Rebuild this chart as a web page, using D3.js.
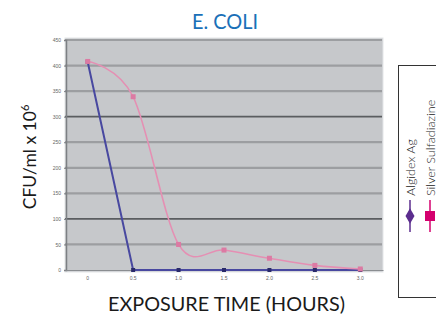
<!DOCTYPE html>
<html><head><meta charset="utf-8">
<script src="https://cdn.jsdelivr.net/npm/d3@7"></script>
<style>body{margin:0;background:#fff;}svg{display:block;}</style>
</head><body>
<script>
const categories = ["0", "0.5", "1.0", "1.5", "2.0", "2.5", "3.0"];
const algidex = [407, 0, 0, 0, 0, 0, 0];
const silver = [408, 339, 50, 39, 23, 9, 2];
const yTicks = [0, 50, 100, 150, 200, 250, 300, 350, 400, 450];
const seriesNames = ["Algidex Ag", "Silver Sulfadiazine"];

const W = 436, H = 318;
const svg = d3.select("body").append("svg").attr("width", W).attr("height", H);
const FONT = "Lato, 'Open Sans', sans-serif";

const plot = {l: 65, r: 383, t: 38, b: 272};
const x = d3.scaleBand().domain(categories).range([plot.l, plot.r]);
const y = d3.scaleLinear().domain([0, 450]).range([270, 40]);
const cx = c => x(c) + x.bandwidth() / 2;

// background
svg.append("rect").attr("x", plot.l).attr("y", plot.t).attr("width", plot.r - plot.l).attr("height", plot.b - plot.t)
  .attr("fill", "#c6c8cb").attr("stroke", "#e4e6e8").attr("stroke-width", 1);

// gridlines
svg.append("g").selectAll("line").data(yTicks.filter(d => d > 0)).join("line")
  .attr("x1", plot.l).attr("x2", plot.r - 1).attr("y1", d => y(d)).attr("y2", d => y(d))
  .attr("stroke", d => (d === 100 || d === 300) ? "#5a5d60" : "#9c9ea1")
  .attr("stroke-width", d => (d === 100 || d === 300) ? 1.6 : 2.2);

// y axis
const yAxis = d3.axisLeft(y).tickValues(yTicks).tickSize(2).tickPadding(3);
const gy = svg.append("g").attr("transform", `translate(${plot.l + 1},0)`).call(yAxis);
gy.select(".domain").attr("stroke", "#7d8084").attr("stroke-width", 1.5);
gy.selectAll(".tick line").attr("stroke", "#7d8084");
gy.selectAll("text").attr("font-size", 5).attr("fill", "#666").attr("font-family", "Arial, sans-serif");

// x axis
const xAxis = d3.axisBottom(x).tickSize(0).tickPadding(6);
const gx = svg.append("g").attr("transform", `translate(0,270)`).call(xAxis);
gx.select(".domain").attr("stroke", "#8a8d91").attr("stroke-width", 1.2);
gx.selectAll("text").attr("font-size", 5).attr("fill", "#666").attr("font-family", "Arial, sans-serif");

// lines
const line = d3.line().x((d, i) => cx(categories[i])).y(d => y(d));
svg.append("path").datum(algidex).attr("d", line).attr("fill", "none")
  .attr("stroke", "#4848a0").attr("stroke-width", 2);
const sline = d3.line().x((d, i) => cx(categories[i])).y(d => y(d)).curve(d3.curveCardinal.tension(0));
svg.append("path").datum(silver).attr("d", sline).attr("fill", "none")
  .attr("stroke", "#e58fb3").attr("stroke-width", 1.6);

// markers
svg.append("g").selectAll("rect").data(algidex).join("rect")
  .attr("x", (d, i) => cx(categories[i]) - 2).attr("y", d => y(d) - 2)
  .attr("width", 4).attr("height", 4).attr("fill", "#2a2a6a");
svg.append("g").selectAll("rect").data(silver).join("rect")
  .attr("x", (d, i) => cx(categories[i]) - 2.5).attr("y", d => y(d) - 2.5)
  .attr("width", 5).attr("height", 5).attr("fill", "#dc7aa3");

// title
svg.append("text").attr("x", 225).attr("y", 29).attr("text-anchor", "middle")
  .attr("font-family", FONT).attr("font-size", 21).attr("fill", "#1a70b8")
  .attr("textLength", 66).attr("lengthAdjust", "spacingAndGlyphs")
  .text("E. COLI");

// y label
const yl = svg.append("text").attr("transform", "translate(36,157) rotate(-90)").attr("text-anchor", "middle")
  .attr("font-family", FONT).attr("font-size", 17.5).attr("fill", "#1a1a1a");
yl.append("tspan").text("CFU/ml x 10");
yl.append("tspan").attr("font-size", 11).attr("dy", -7).text("6");

// x label
svg.append("text").attr("x", 226.5).attr("y", 311).attr("text-anchor", "middle")
  .attr("font-family", FONT).attr("font-size", 19).attr("fill", "#1a1a1a")
  .attr("textLength", 237).attr("lengthAdjust", "spacingAndGlyphs")
  .text("EXPOSURE TIME (HOURS)");

// legend
const lg = svg.append("g");
lg.append("rect").attr("x", 398.5).attr("y", 65.5).attr("width", 60).attr("height", 232)
  .attr("fill", "#fff").attr("stroke", "#333").attr("stroke-width", 1);
const legColors = ["#5b2d8e", "#d4006e"];
seriesNames.forEach((name, i) => {
  const lx = 410 + i * 20;
  lg.append("line").attr("x1", lx).attr("x2", lx).attr("y1", 200).attr("y2", 232)
    .attr("stroke", legColors[i]).attr("stroke-width", 1.5);
  if (i === 0) {
    lg.append("path").attr("d", d3.symbol(d3.symbolDiamond, 70)()).attr("transform", `translate(${lx},216)`)
      .attr("fill", legColors[i]);
  } else {
    lg.append("rect").attr("x", lx - 5).attr("y", 211).attr("width", 10).attr("height", 10).attr("fill", legColors[i]);
  }
  lg.append("text").attr("transform", `translate(${lx + 5},196) rotate(-90)`)
    .attr("font-family", FONT).attr("font-weight", 300).attr("font-size", 12.5).attr("fill", "#222")
    .text(name);
});
</script>
</body></html>
